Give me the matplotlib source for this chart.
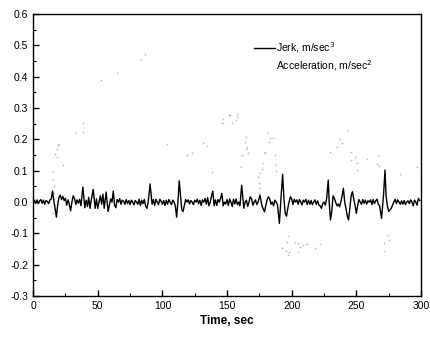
import numpy as np
import matplotlib
matplotlib.use("Agg")
import matplotlib.pyplot as plt

plt.rcParams["font.family"] = ["Liberation Sans", "DejaVu Sans"]

# jerk trace
jerk_t = [0, 1, 2, 3, 4, 5, 6, 7, 8, 9, 10, 11, 12, 13, 14, 15, 16, 17, 18, 19,
          20, 21, 22, 23, 24, 25, 26, 27, 28, 29, 30, 31, 32, 33, 34, 35, 36, 37, 38.5, 40,
          41, 42, 43, 44, 45, 46.5, 48, 49, 50, 51, 52, 53, 54, 55, 56.5, 58, 59, 60, 61, 62,
          63, 64, 65, 66, 67, 68, 69, 70, 71, 72, 73, 74, 75, 76, 77, 78, 79, 80, 81, 82,
          83, 84, 85, 86, 87, 88, 89, 90.5, 92, 93, 94, 95, 96, 97, 98, 99, 100, 101, 102, 103,
          104, 105, 106, 107, 108, 109, 110, 111, 112, 113, 114, 115, 116, 117, 118, 119, 120, 121, 122, 123,
          124, 125, 126, 127, 128, 129, 130, 131, 132, 133, 134, 135, 136, 137, 138, 139, 140, 141, 142, 143,
          144, 145, 146, 147, 148, 149, 150, 151, 152, 153, 154, 155, 156, 157, 158, 159, 160, 161.3, 163, 164,
          165, 166, 167, 168, 169, 170, 171, 172, 173, 174, 175.5, 177, 178, 179, 180, 181, 182, 183, 184, 185,
          186, 187, 188, 189, 190.5, 192, 193, 194, 195, 196, 197, 198, 199, 200, 201, 202, 203, 204, 205, 206,
          207, 208, 209, 210, 211, 212, 213, 214, 215, 216, 217, 218, 219, 220, 221, 222, 223, 224, 225, 226,
          227, 228.3, 229, 230, 231, 232, 233, 234, 235, 236, 237, 238, 239, 240, 241, 242, 243, 244, 245, 246,
          247, 248, 249, 250, 251, 252, 253, 254, 255, 256, 257, 258, 259, 260, 261, 262, 263, 264, 265, 266,
          267, 268, 269.5, 271, 272.2, 273, 274, 275, 276, 277, 278, 279, 280, 281, 282, 283, 284, 285, 286, 287,
          288, 289, 290, 291, 292, 293, 294, 295, 296, 297, 298, 299]
jerk_v = [0.0, 0.006, -0.004, 0.007, -0.005, 0.004, 0.008, -0.004, 0.006, -0.007, 0.005, 0.002, -0.005, 0.007, 0.01, 0.035, 0.005, -0.02, -0.048, -0.01,
          0.015, 0.022, 0.008, 0.018, 0.005, 0.012, -0.01, 0.007, -0.007, -0.028, 0.0, 0.02, 0.012, -0.008, 0.007, -0.004, 0.009, -0.012, 0.048, -0.018,
          0.006, -0.014, 0.015, -0.02, 0.007, 0.04, -0.02, 0.01, -0.02, 0.0, 0.02, -0.007, 0.025, -0.02, 0.032, -0.03, -0.01, 0.01, 0.0, 0.035,
          -0.01, -0.018, 0.008, 0.0, 0.011, -0.007, 0.006, 0.003, -0.007, 0.008, -0.005, 0.005, -0.008, 0.006, 0.0, -0.009, 0.005, 0.0, -0.007, 0.009,
          -0.011, 0.006, -0.005, 0.008, -0.012, -0.02, 0.0, 0.058, -0.007, 0.008, -0.011, 0.009, 0.0, -0.008, 0.009, 0.003, -0.007, 0.005, -0.011, 0.006,
          -0.007, 0.008, 0.0, -0.008, 0.006, 0.0, -0.012, -0.048, 0.0, 0.068, 0.02, -0.025, -0.03, -0.01, 0.008, 0.0, 0.007, -0.006, 0.005, 0.0,
          -0.008, 0.006, 0.0, 0.009, -0.005, 0.006, -0.011, 0.007, 0.0, 0.012, -0.007, 0.014, -0.012, 0.0, 0.02, 0.035, -0.012, 0.007, -0.011, 0.008,
          0.0, 0.012, 0.028, -0.012, 0.0, -0.006, 0.008, -0.011, 0.01, 0.0, -0.014, 0.009, -0.006, 0.01, -0.008, 0.0, -0.012, 0.054, -0.02, 0.0,
          0.006, -0.014, 0.0, 0.017, 0.01, -0.01, 0.0, 0.007, -0.008, 0.0, 0.022, -0.012, -0.022, -0.031, -0.01, 0.007, 0.017, 0.01, -0.007, 0.0,
          -0.012, 0.006, 0.0, -0.008, -0.068, 0.03, 0.089, 0.01, -0.036, -0.045, -0.02, 0.0, 0.017, 0.01, -0.008, 0.009, 0.0, 0.007, -0.007, 0.008,
          0.0, -0.009, 0.006, 0.0, 0.009, -0.008, 0.006, -0.007, 0.005, -0.008, 0.0, 0.007, -0.007, 0.004, -0.009, -0.012, -0.02, -0.005, 0.0, -0.01,
          0.01, 0.07, 0.0, -0.057, -0.03, 0.02, 0.012, 0.0, -0.012, -0.006, -0.015, 0.0, 0.02, 0.044, 0.0, -0.02, -0.045, -0.057, -0.02, 0.02,
          0.033, 0.01, -0.01, -0.036, -0.012, 0.008, 0.0, -0.007, 0.008, -0.004, 0.006, -0.007, 0.004, 0.0, 0.007, -0.008, 0.008, -0.005, 0.004, 0.009,
          -0.007, -0.012, -0.052, 0.02, 0.102, 0.02, -0.012, -0.03, -0.025, -0.02, -0.01, 0.0, 0.009, -0.005, 0.007, 0.0, -0.007, 0.004, -0.007, 0.005,
          -0.008, 0.0, 0.004, -0.005, 0.007, 0.0, -0.012, 0.006, 0.0, -0.01, 0.012, 0.005]

# acceleration: only faint specks are visible in the picture
acc_t = [15.2, 15.5, 15.8, 16.0, 16.2, 16.0, 15.8, 15.6, 17.0, 18.3, 18.8, 19.6, 19.9, 23.4,
         33.2, 38.4, 38.9, 52.3, 64.7, 83.2, 86.6, 103.3, 118.8, 122.9, 131.2, 134.8, 138.1,
         145.9, 146.1, 147.1, 151.8, 152.3, 153.6, 157.0, 157.4, 157.5,
         160.5, 161.3, 163.9, 164.7, 164.7, 165.2, 166.5,
         174.2, 174.5, 174.8, 175.0, 175.5, 176.8, 177.6, 178.6, 179.4, 182.0, 182.7, 183.2, 185.8, 187.1, 187.3, 187.5,
         192.3, 195.6, 196.6, 197.4, 197.4, 198.2, 202.5, 205.1, 205.1, 206.4, 209.0, 211.6, 218.0, 221.9,
         229.6, 234.8, 237.4, 238.7, 243.8, 245.6, 245.9, 249.0, 250.2, 250.2, 258.0, 265.7, 267.0, 267.8,
         271.4, 271.4, 274.7, 275.5, 283.7, 296.6]
acc_v = [0.099, 0.075, 0.05, 0.03, 0.01, -0.01, -0.025, -0.035, 0.153, 0.143, 0.168, 0.182, 0.185, 0.117,
         0.221, 0.222, 0.251, 0.389, 0.413, 0.453, 0.471, 0.186, 0.15, 0.157, 0.187, 0.179, 0.096,
         0.251, 0.251, 0.266, 0.279, 0.278, 0.251, 0.261, 0.28, 0.272,
         0.113, 0.15, 0.193, 0.206, 0.168, 0.177, 0.155,
         0.079, 0.06, 0.045, 0.03, 0.092, 0.107, 0.125, 0.161, 0.155, 0.219, 0.193, 0.203, 0.203, 0.15, 0.118, 0.1,
         -0.146, -0.156, -0.127, -0.108, -0.169, -0.159, -0.127, -0.129, -0.159, -0.143, -0.137, -0.135, -0.148, -0.135,
         0.16, 0.176, 0.2, 0.187, 0.23, 0.134, 0.16, 0.145, 0.125, 0.102, 0.136, 0.123, 0.15, 0.115,
         -0.132, -0.156, -0.105, -0.121, 0.089, 0.113]

fig = plt.figure(figsize=(4.3, 3.4), dpi=100)
ax = fig.add_axes([0.077, 0.129, 0.902, 0.83])

ax.plot(acc_t, acc_v, linestyle="none", marker="s", markersize=1.1,
        color="#b8b8b8", markeredgewidth=0, label="Acceleration, m/sec$^2$")
ax.plot(jerk_t, jerk_v, color="black", linewidth=1.0, label="Jerk, m/sec$^3$")

ax.set_xlim(0, 300)
ax.set_ylim(-0.3, 0.6)
ax.set_xticks(np.arange(0, 301, 50))
ax.set_xticks(np.arange(0, 301, 25), minor=True)
ax.set_yticks(np.arange(-0.3, 0.61, 0.1))
ax.set_yticks(np.arange(-0.3, 0.61, 0.05), minor=True)
ax.set_yticklabels(["%.1f" % v for v in np.arange(-0.3, 0.61, 0.1)])
ax.tick_params(which="major", direction="in", length=4, width=1, labelsize=7.5)
ax.tick_params(which="minor", direction="in", length=2.5, width=0.8)
for s in ax.spines.values():
    s.set_linewidth(1)

ax.set_xlabel("Time, sec", fontsize=8.5, fontweight="bold", labelpad=3)

h, l = ax.get_legend_handles_labels()
ax.legend([h[1], h[0]], [l[1], l[0]], loc="upper left", bbox_to_anchor=(0.555, 0.925),
          frameon=False, fontsize=7.5, handlelength=2.1, handletextpad=0.1,
          borderpad=0, labelspacing=0.3, markerscale=0.01)

plt.savefig("out.png", dpi=100)
